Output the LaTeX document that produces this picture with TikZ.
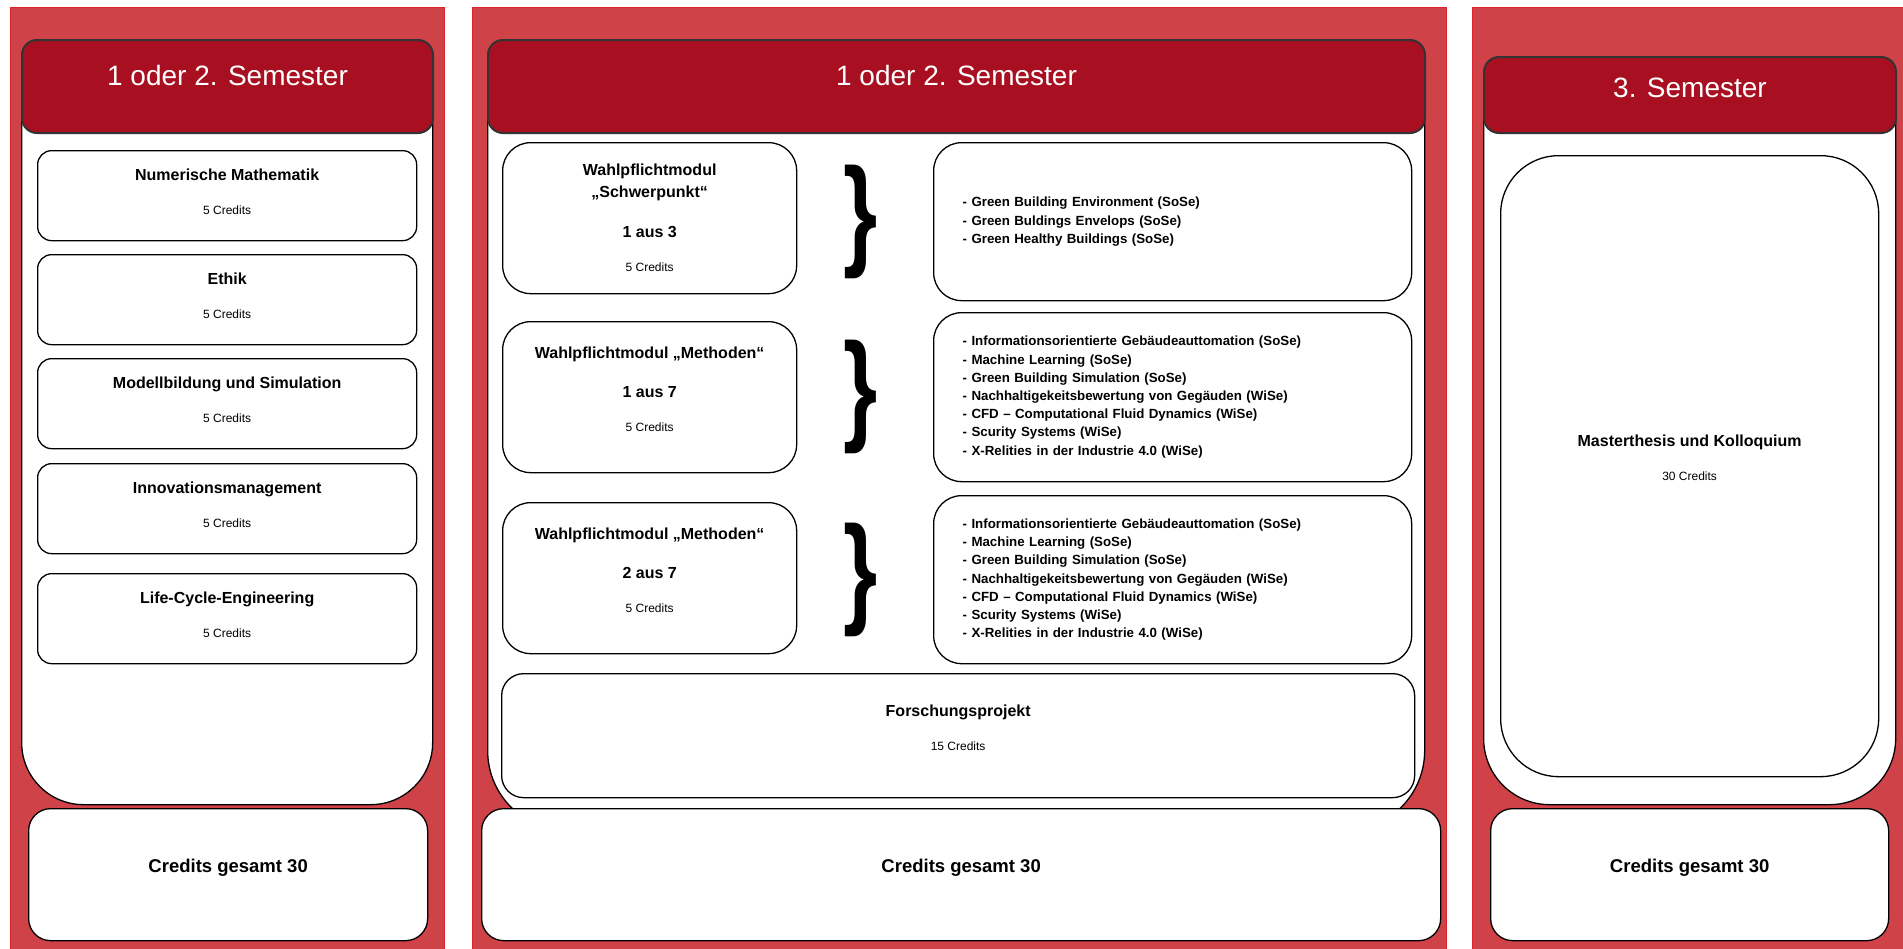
\documentclass[tikz,border=0pt]{standalone}
\usepackage{fontspec}
\setmainfont{Liberation Sans}
\usetikzlibrary{positioning,calc}

\definecolor{panelred}{RGB}{207,66,72}
\definecolor{panelline}{RGB}{222,34,42}
\definecolor{headred}{RGB}{168,15,32}
\definecolor{headline}{RGB}{51,51,51}

\newcommand{\methodenlist}{- Informationsorientierte Gebäudeauttomation (SoSe)\\
  - Machine Learning (SoSe)\\
  - Green Building Simulation (SoSe)\\
  - Nachhaltigekeitsbewertung von Gegäuden (WiSe)\\
  - CFD -- Computational Fluid Dynamics (WiSe)\\
  - Scurity Systems (WiSe)\\
  - X-Relities in der Industrie 4.0 (WiSe)}
\newcommand{\bigbrace}{\scalebox{0.72}[1]{\}}}

\tikzset{
  panel/.style={fill=panelred, draw=panelline, line width=1pt},
  body/.style={draw=black, fill=white, line width=1.3pt, anchor=north west, inner sep=0pt},
  header/.style={draw=headline, fill=headred, line width=2pt, rounded corners=15pt,
    anchor=north west, inner sep=0pt},
  modbox/.style={draw=black, fill=white, line width=1.3pt, anchor=north west, inner sep=0pt},
  listbox/.style={modbox, rounded corners=28pt, align=left, inner xsep=29pt, text width=420,
    font=\bfseries\fontsize{13.3}{18.2}\selectfont},
  semtitle/.style={text=white, font=\fontsize{28}{34}\selectfont, inner sep=0pt,
    text height=20pt, text depth=0pt},
  modtitle/.style={font=\bfseries\fontsize{16}{19}\selectfont, inner sep=0pt,
    text height=11.5pt, text depth=0pt},
  modcredit/.style={font=\fontsize{12}{14}\selectfont, inner sep=0pt,
    text height=8.6pt, text depth=0pt},
  totaltext/.style={font=\bfseries\fontsize{18.5}{22}\selectfont, inner sep=0pt,
    text height=13.3pt, text depth=0pt},
  bracket/.style={font=\bfseries\fontsize{122}{122}\selectfont, inner sep=0pt},
}

\begin{document}
\begin{tikzpicture}[x=1pt, y=-1pt]
  \useasboundingbox (0,0) rectangle (1903,948);
  \fill[white] (0,0) rectangle (1903,948);
  % red columns
  \draw[panel] (10,7) rectangle (444,952);
  \draw[panel] (472,7) rectangle (1446,952);
  \draw[panel] (1472,7) rectangle (1908,952);
  % white bodies
  \node[body, rounded corners=62pt, minimum width=411, minimum height=765] (body1) at (21,39) {};
  \node[body, rounded corners=80pt, minimum width=937, minimum height=791] (body2) at (487,39) {};
  \node[body, rounded corners=66pt, minimum width=412, minimum height=748] (body3) at (1483,56) {};
  % headers
  \node[header, minimum width=411, minimum height=93] (head1) at (21,39) {};
  \node[header, minimum width=937, minimum height=93] (head2) at (487,39) {};
  \node[header, minimum width=412, minimum height=76] (head3) at (1483,56) {};
  \node[semtitle] (sem1) at ($(head1.north)+(0,36)$) {1 oder 2. Semester};
  \node[semtitle] (sem2) at ($(head2.north)+(0,36)$) {1 oder 2. Semester};
  \node[semtitle] (sem3) at ($(head3.north)+(0,31)$) {3. Semester};

  % first column modules
  \foreach \ytop/\modname [count=\i] in {150/Numerische Mathematik, 254/Ethik,
    358/Modellbildung und Simulation, 463/Innovationsmanagement, 573/Life-Cycle-Engineering} {
    \node[modbox, rounded corners=14pt, minimum width=379, minimum height=90] (mod\i) at (37,\ytop) {};
    \node[modtitle] (modname\i) at ($(mod\i.north)+(0,24.5)$) {\modname};
    \node[modcredit] (modcr\i) at ($(mod\i.north)+(0,60)$) {5 Credits};
  }

  % second column: elective modules
  \node[modbox, rounded corners=28pt, minimum width=294, minimum height=151] (wp1) at (502,142) {};
  \node[modtitle] (wp1a) at ($(wp1.north)+(0,27.5)$) {Wahlpflichtmodul};
  \node[modtitle] (wp1b) at ($(wp1.north)+(0,49.5)$) {„Schwerpunkt“};
  \node[modtitle] (wp1c) at ($(wp1.north)+(0,90)$) {1 aus 3};
  \node[modcredit] (wp1d) at ($(wp1.north)+(0,125)$) {5 Credits};
  \foreach \ytop/\k [count=\i from 2] in {321/1, 502/2} {
    \node[modbox, rounded corners=28pt, minimum width=294, minimum height=151] (wp\i) at (502,\ytop) {};
    \node[modtitle] (wp\i a) at ($(wp\i.north)+(0,32)$) {Wahlpflichtmodul „Methoden“};
    \node[modtitle] (wp\i c) at ($(wp\i.north)+(0,71)$) {\k{} aus 7};
    \node[modcredit] (wp\i d) at ($(wp\i.north)+(0,106)$) {5 Credits};
  }
  % lists
  \node[listbox, minimum height=158] (listA) at (933,142) {- Green Building Environment (SoSe)\\
    - Green Buldings Envelops (SoSe)\\
    - Green Healthy Buildings (SoSe)};
  \node[listbox, minimum height=169] (listB) at (933,312) {\methodenlist};
  \node[listbox, minimum height=168] (listC) at (933,495) {\methodenlist};
  % braces
  \node[bracket, left=55pt of listA] (brA) {\bigbrace};
  \node[bracket, left=55pt of listB] (brB) {\bigbrace};
  \node[bracket, left=55pt of listC] (brC) {\bigbrace};
  % research project
  \node[modbox, rounded corners=22pt, minimum width=913, minimum height=124] (fp) at (501,673) {};
  \node[modtitle] (fpname) at ($(fp.north)+(0,38)$) {Forschungsprojekt};
  \node[modcredit] (fpcr) at ($(fp.north)+(0,73)$) {15 Credits};

  % third column
  \node[modbox, rounded corners=58pt, minimum width=378, minimum height=621] (thesis) at (1500,155) {};
  \node[modtitle] (thesisname) at ($(thesis.north)+(0,286)$) {Masterthesis und Kolloquium};
  \node[modcredit] (thesiscr) at ($(thesis.north)+(0,321)$) {30 Credits};

  % totals
  \foreach \xl/\w [count=\i] in {28/399, 481/959, 1490/398} {
    \node[modbox, rounded corners=22pt, minimum width=\w, minimum height=132] (total\i) at (\xl,808) {};
    \node[totaltext] (totaltxt\i) at ($(total\i.north)+(0,58)$) {Credits gesamt 30};
  }
\end{tikzpicture}
\end{document}
